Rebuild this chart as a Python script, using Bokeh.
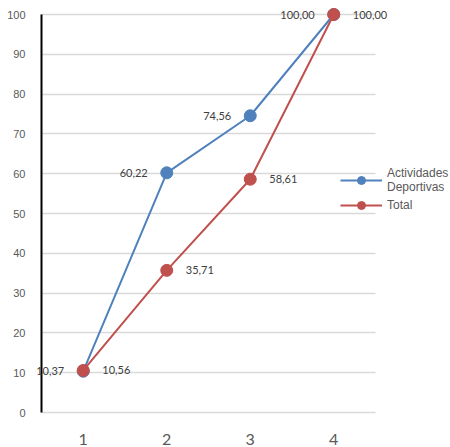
from bokeh.plotting import figure
from bokeh.models import ColumnDataSource, Legend, LegendItem, FixedTicker, LabelSet, Range1d, BoxAnnotation
from bokeh.core.properties import value
from bokeh.embed import file_html
from bokeh.resources import INLINE

categories = [1, 2, 3, 4]
actividades = [10.37, 60.22, 74.56, 100.00]
total = [10.56, 35.71, 58.61, 100.00]
y_ticks = list(range(0, 101, 10))

BLUE = "#4f81bd"
RED = "#c0504d"

def fmt(v):
    return f"{v:.2f}".replace(".", ",")

src_a = ColumnDataSource(dict(x=categories, y=actividades, lab=[fmt(v) for v in actividades]))
src_t = ColumnDataSource(dict(x=categories, y=total, lab=[fmt(v) for v in total]))

PX = 83.5       # pixels per category
AXIS_X = 41     # where the drawn y axis line sits (frame starts at 0)
x0 = 0.5 - AXIS_X / PX
PY = 3.98       # pixels per y unit
ZERO_Y = 412    # pixel row of y = 0
FRAME_B = 420   # frame bottom row
y_bottom = -(FRAME_B - ZERO_Y) / PY
y_top = ZERO_Y / PY

p = figure(width=450, height=447, output_backend="svg", toolbar_location=None,
           x_range=Range1d(x0, x0 + 450 / PX), y_range=Range1d(y_bottom, y_top),
           min_border_left=0, min_border_right=0, min_border_top=0,
           min_border_bottom=447 - FRAME_B)
p.outline_line_color = None
p.background_fill_color = "white"

# grid
p.xgrid.grid_line_color = None
p.ygrid.grid_line_color = "#d9d9d9"
p.ygrid.grid_line_width = 1.5
p.ygrid.ticker = FixedTicker(ticks=y_ticks)

# hide grid outside the category area
p.add_layout(BoxAnnotation(left=4.5, fill_color="white", fill_alpha=1, line_alpha=0, level="underlay"))
p.add_layout(BoxAnnotation(right=0.5, fill_color="white", fill_alpha=1, line_alpha=0, level="underlay"))

# y axis drawn at the left edge of the category area
p.yaxis.fixed_location = 0.5
p.yaxis.bounds = (0, 100)
p.yaxis.ticker = FixedTicker(ticks=y_ticks)
p.yaxis.axis_line_color = "black"
p.yaxis.axis_line_width = 2
p.yaxis.major_tick_line_color = None
p.yaxis.minor_tick_line_color = None
p.yaxis.major_label_text_font = "Liberation Sans"
p.yaxis.major_label_text_font_size = "11px"
p.yaxis.major_label_text_color = "#595959"
p.yaxis.major_label_standoff = 10

# x axis
p.xaxis.ticker = FixedTicker(ticks=categories)
p.xaxis.axis_line_color = None
p.xaxis.major_tick_line_color = None
p.xaxis.minor_tick_line_color = None
p.xaxis.major_label_text_font = "Lato"
p.xaxis.major_label_text_font_size = "16px"
p.xaxis.major_label_text_color = "#595959"
p.xaxis.major_label_standoff = 7

la = p.line("x", "y", source=src_a, line_color=BLUE, line_width=2)
ma = p.scatter("x", "y", source=src_a, size=12, fill_color=BLUE, line_color=BLUE)
lt = p.line("x", "y", source=src_t, line_color=RED, line_width=2)
mt = p.scatter("x", "y", source=src_t, size=12, fill_color=RED, line_color=RED)

lab_a = LabelSet(x="x", y="y", text="lab", source=src_a, x_offset=-19, text_align="right",
                 text_baseline="middle", text_font=value("Lato"), text_font_size="11px",
                 text_color="#404040")
lab_t = LabelSet(x="x", y="y", text="lab", source=src_t, x_offset=19, text_align="left",
                 text_baseline="middle", text_font=value("Lato"), text_font_size="11px",
                 text_color="#404040")
p.add_layout(lab_a)
p.add_layout(lab_t)

legend = Legend(items=[LegendItem(label="Actividades\nDeportivas", renderers=[la, ma]),
                       LegendItem(label="Total", renderers=[lt, mt])],
                location=(340, 197 + (FRAME_B - ZERO_Y)), glyph_width=42, label_standoff=5,
                padding=0, margin=0, spacing=1, label_height=15,
                border_line_color=None, background_fill_alpha=0,
                label_text_font="Liberation Sans", label_text_font_size="12px",
                label_text_color="#595959")
p.add_layout(legend, "center")

open("out.html", "w").write(file_html(p, INLINE))
